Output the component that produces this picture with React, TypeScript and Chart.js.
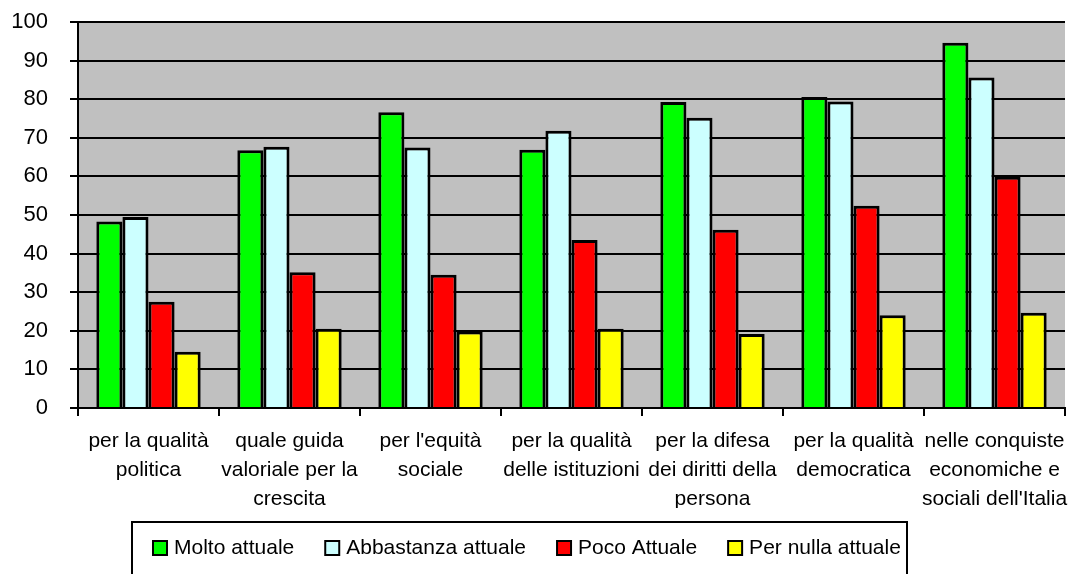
import React, { useEffect, useRef } from "react";
import { Chart, registerables } from "chart.js";

Chart.register(...registerables);

const categories: string[][] = [
  ["per la qualità", "politica"],
  ["quale guida", "valoriale per la", "crescita"],
  ["per l'equità", "sociale"],
  ["per la qualità", "delle istituzioni"],
  ["per la difesa", "dei diritti della", "persona"],
  ["per la qualità", "democratica"],
  ["nelle conquiste", "economiche e", "sociali dell'Italia"],
];

const seriesNames = ["Molto attuale", "Abbastanza attuale", "Poco Attuale", "Per nulla attuale"];
const moltoAttuale = [48.3, 66.8, 76.6, 66.9, 79.3, 80.6, 94.6];
const abbastanzaAttuale = [49.5, 67.7, 67.5, 71.8, 75.2, 79.4, 85.6];
const pocoAttuale = [27.5, 35.2, 34.5, 43.5, 46.2, 52.4, 59.9];
const perNullaAttuale = [14.6, 20.5, 19.8, 20.5, 19.2, 24.0, 24.7];
const seriesColors = ["#00FF00", "#CCFFFF", "#FF0000", "#FFFF00"];
const yTicks = [0, 10, 20, 30, 40, 50, 60, 70, 80, 90, 100];

const FONT = "'Liberation Sans', Arial, sans-serif";

const bgPlugin = {
  id: "plotBg",
  beforeDraw(chart: any) {
    const { ctx, chartArea } = chart;
    ctx.save();
    ctx.fillStyle = "#C0C0C0";
    ctx.fillRect(chartArea.left, chartArea.top, chartArea.right - chartArea.left, chartArea.bottom - chartArea.top);
    ctx.restore();
  },
};

const legendPlugin = {
  id: "boxLegend",
  afterDraw(chart: any) {
    const { ctx } = chart;
    ctx.save();
    ctx.strokeStyle = "#000";
    ctx.lineWidth = 2;
    ctx.strokeRect(132, 522, 775, 80);
    ctx.font = `21px ${FONT}`;
    ctx.textBaseline = "middle";
    ctx.textAlign = "left";
    let x = 153;
    const cy = 548;
    chart.data.datasets.forEach((ds: any) => {
      ctx.fillStyle = ds.backgroundColor;
      ctx.fillRect(x, cy - 7, 14, 14);
      ctx.lineWidth = 2;
      ctx.strokeStyle = "#000";
      ctx.strokeRect(x, cy - 7, 14, 14);
      ctx.fillStyle = "#000";
      ctx.fillText(ds.label, x + 21, cy);
      x += 21 + ctx.measureText(ds.label).width + 31;
    });
    ctx.restore();
  },
};

export default function App() {
  const ref = useRef<HTMLCanvasElement>(null);
  useEffect(() => {
    const values = [moltoAttuale, abbastanzaAttuale, pocoAttuale, perNullaAttuale];
    const chart = new Chart(ref.current!, {
      type: "bar",
      data: {
        labels: categories,
        datasets: seriesNames.map((name, i) => ({
          label: name,
          data: values[i],
          backgroundColor: seriesColors[i],
          borderColor: "#000",
          borderWidth: 3,
          categoryPercentage: 0.74,
          barPercentage: 1,
        })),
      },
      options: {
        animation: false,
        responsive: false,
        maintainAspectRatio: false,
        layout: { padding: { left: 0, right: 18, top: 22, bottom: 66 } },
        plugins: { legend: { display: false }, tooltip: { enabled: false } },
        scales: {
          x: {
            grid: {
              offset: true,
              drawOnChartArea: false,
              drawTicks: true,
              tickLength: 8,
              color: "#000",
              lineWidth: 2,
            },
            border: { display: true, color: "#000", width: 2 },
            ticks: {
              color: "#000",
              font: { family: FONT, size: 21, lineHeight: 1.37 },
              padding: 11,
              maxRotation: 0,
              autoSkip: false,
            },
            afterFit(scale: any) {
              scale.height = 100;
              scale.paddingLeft = 0;
              scale.paddingRight = 0;
            },
          },
          y: {
            min: 0,
            max: 100,
            afterBuildTicks(scale: any) {
              scale.ticks = yTicks.map((v) => ({ value: v }));
            },
            grid: { color: "#000", lineWidth: 2, tickLength: 8, drawTicks: true },
            border: { display: true, color: "#000", width: 2 },
            ticks: {
              color: "#000",
              font: { family: FONT, size: 22 },
              padding: 22,
            },
            afterFit(scale: any) {
              scale.width = 78;
              scale.paddingTop = 0;
              scale.paddingBottom = 0;
            },
          },
        },
      },
      plugins: [bgPlugin, legendPlugin],
    });
    return () => chart.destroy();
  }, []);
  return (
    <div style={{ position: "fixed", left: 0, top: 0, width: 1083, height: 574, background: "#fff" }}>
      <canvas ref={ref} width={1083} height={574} style={{ display: "block" }} />
    </div>
  );
}
